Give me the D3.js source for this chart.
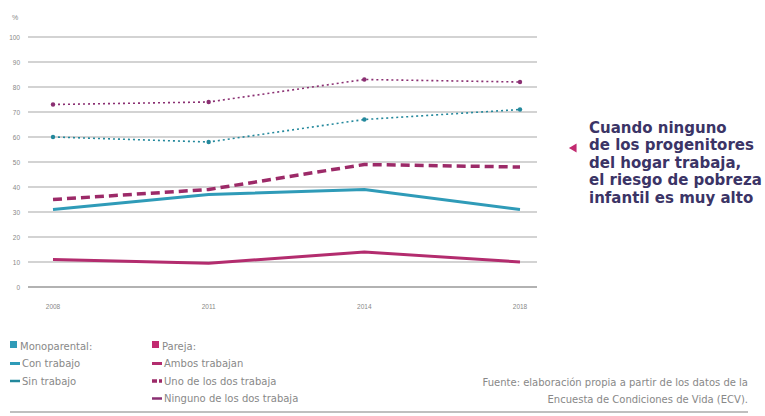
<!DOCTYPE html>
<html><head><meta charset="utf-8">
<script src="https://cdn.jsdelivr.net/npm/d3@7/dist/d3.min.js"></script>
<style>body{margin:0;background:#fff;font-family:"Liberation Sans",Arial,sans-serif}</style>
</head><body><svg id="c" width="765" height="416"></svg>
<script>
const years = ["2008","2011","2014","2018"];
const yTicks = [0,10,20,30,40,50,60,70,80,90,100];
const conTrabajo = [31,37,39,31];
const sinTrabajo = [60,58,67,71];
const ambosTrabajan = [11,9.5,14,10];
const unoTrabaja = [35,39,49,48];
const ningunoTrabaja = [73,74,83,82];
const legendMono = ["Monoparental:","Con trabajo","Sin trabajo"];
const legendPareja = ["Pareja:","Ambos trabajan","Uno de los dos trabaja","Ninguno de los dos trabaja"];
const noteLines = ["Cuando ninguno","de los progenitores","del hogar trabaja,","el riesgo de pobreza","infantil es muy alto"];
const sourceLines = ["Fuente: elaboración propia a partir de los datos de la","Encuesta de Condiciones de Vida (ECV)."];

const teal="#2f9bb8", teal2="#23889c", mag="#b32c6e", mag2="#9c2a68", mag3="#8a2f72";
const svg=d3.select("#c");
const x=d3.scalePoint().domain(years).range([53,520]);
const y=d3.scaleLinear().domain([0,100]).range([287,37]);

// grid
svg.append("g").selectAll("line").data(yTicks).join("line")
 .attr("x1",28).attr("x2",537).attr("y1",d=>y(d)).attr("y2",d=>y(d))
 .attr("stroke",d=>d===0?"#999":"#c4c4c4").attr("stroke-width",1.5);
svg.append("g").selectAll("text").data(yTicks).join("text")
 .attr("x",20).attr("y",d=>y(d)+2.5).attr("text-anchor","end")
 .attr("font-size",6.5).attr("fill","#888").text(d=>d);
svg.append("text").attr("x",12).attr("y",20).attr("font-size",7).attr("fill","#888").text("%");
svg.append("g").selectAll("text").data(years).join("text")
 .attr("x",d=>x(d)).attr("y",309).attr("text-anchor","middle")
 .attr("font-size",6.5).attr("fill","#888").text(d=>d);

const line=d3.line().x((d,i)=>x(years[i])).y(d=>y(d));
function draw(data,color,w,dash,dots){
  svg.append("path").attr("d",line(data)).attr("fill","none").attr("stroke",color)
   .attr("stroke-width",w).attr("stroke-dasharray",dash||null);
  if(dots) svg.append("g").selectAll("circle").data(data).join("circle")
   .attr("cx",(d,i)=>x(years[i])).attr("cy",d=>y(d)).attr("r",2.2).attr("fill",color);
}
draw(ambosTrabajan,mag,3);
draw(conTrabajo,teal,3);
draw(unoTrabaja,mag2,3.5,"9,5");
draw(sinTrabajo,teal2,1.6,"2,3",true);
draw(ningunoTrabaja,mag3,1.6,"2,3",true);

// annotation
svg.append("path").attr("d",d3.symbol(d3.symbolTriangle,34)()).attr("transform","translate(574,148) rotate(-90)").attr("fill","#c22a70");
svg.append("g").selectAll("text").data(noteLines).join("text")
 .attr("x",589).attr("y",(d,i)=>133+i*17.4).attr("font-size",15).attr("font-weight","bold")
 .attr("font-family","'DejaVu Sans',sans-serif")
 .attr("fill","#3b3466").text(d=>d);

// legend
const lg=svg.append("g").attr("font-size",10).attr("font-family","'DejaVu Sans',sans-serif").attr("fill","#888");
function legend(items,x0,sq,styles){
  items.forEach((t,i)=>{
    const yy=346+i*17.5;
    if(i===0) lg.append("rect").attr("x",x0).attr("y",yy-5).attr("width",7).attr("height",7).attr("fill",sq);
    else lg.append("line").attr("x1",x0).attr("x2",x0+10).attr("y1",yy).attr("y2",yy)
      .attr("stroke",styles[i-1][0]).attr("stroke-width",styles[i-1][1]).attr("stroke-dasharray",styles[i-1][2]||null);
    lg.append("text").attr("x",x0+(i===0?10:12)).attr("y",yy+3.5).attr("fill","#888").text(t);
  });
}
legend(legendMono,10,teal,[[teal,3],[teal2,2.5]]);
legend(legendPareja,152,"#c22a70",[[mag,3],[mag2,3.5,"5,2"],[mag3,2.5]]);
svg.append("g").selectAll("text").data(sourceLines).join("text")
 .attr("x",748).attr("y",(d,i)=>386+i*17).attr("text-anchor","end")
 .attr("font-family","'DejaVu Sans',sans-serif")
 .attr("font-size",10).attr("fill","#888").text(d=>d);
svg.append("line").attr("x1",10).attr("x2",748).attr("y1",412).attr("y2",412).attr("stroke","#aaa").attr("stroke-width",1.5);
</script></body></html>
